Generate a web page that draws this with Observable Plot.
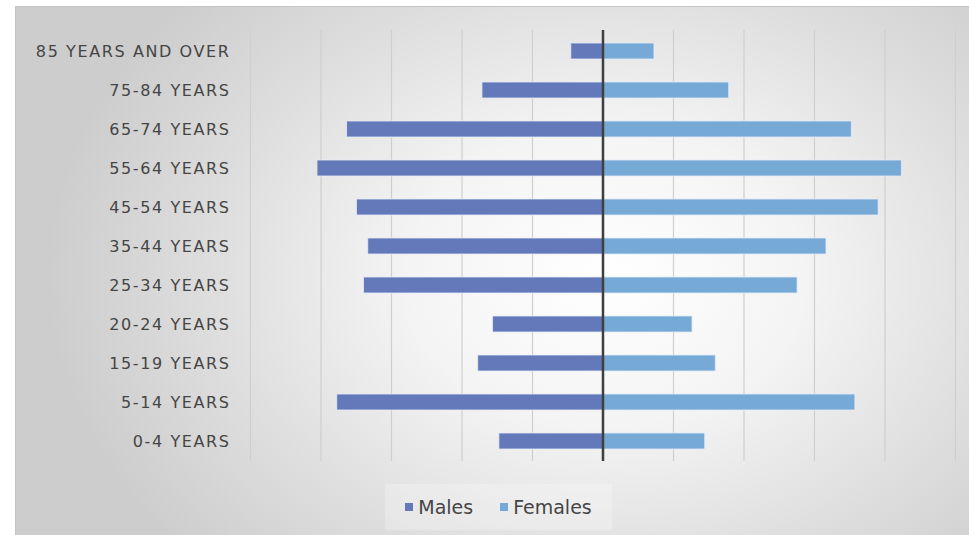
<!DOCTYPE html>
<html>
<head>
<meta charset="utf-8">
<script src="https://cdn.jsdelivr.net/npm/d3@7"></script>
<script src="https://cdn.jsdelivr.net/npm/@observablehq/plot@0.6"></script>
<style>
  html, body { margin: 0; padding: 0; background: #fff; }
  body { width: 969px; height: 535px; position: relative; overflow: hidden; font-family: "DejaVu Sans", sans-serif; }
  #panel {
    position: absolute; left: 15px; top: 6px; width: 970px; height: 540px;
    border: 1px solid #c4c4c4; box-sizing: border-box;
    background: radial-gradient(ellipse 560px 420px at 590px 270px, #ffffff 0%, #f4f4f4 35%, #dedede 70%, #cdcdcd 100%);
  }
  #chart { position: absolute; left: 0; top: 0; }
  #legend {
    position: absolute; left: 385px; top: 484px; width: 227px; height: 46px;
    background: rgba(255,255,255,0.25);
    display: flex; align-items: center; justify-content: center; gap: 27px;
    font-size: 19px; color: #454545;
  }
  #legend span.item { display: flex; align-items: center; gap: 5px; }
  #legend span.sw { width: 8px; height: 8px; display: inline-block; }
</style>
</head>
<body>
<div id="panel"></div>
<div id="chart"></div>
<div id="legend">
  <span class="item"><span class="sw" style="background:#6479b9"></span>Males</span>
  <span class="item"><span class="sw" style="background:#77a9d7"></span>Females</span>
</div>
<script>
const ageGroups = ["85 YEARS AND OVER","75-84 YEARS","65-74 YEARS","55-64 YEARS","45-54 YEARS","35-44 YEARS","25-34 YEARS","20-24 YEARS","15-19 YEARS","5-14 YEARS","0-4 YEARS"];
const males   = [0.45, 1.71, 3.63, 4.05, 3.49, 3.33, 3.39, 1.56, 1.77, 3.77, 1.47];
const females = [0.73, 1.79, 3.53, 4.24, 3.91, 3.17, 2.76, 1.27, 1.60, 3.58, 1.45];
const gridTicks = [-5,-4,-3,-2,-1,1,2,3,4,5];

const maleColor = "#6479b9";
const femaleColor = "#77a9d7";

const rows = ageGroups.flatMap((g, i) => [
  {group: g, sex: "Males", x1: 0, x2: -males[i]},
  {group: g, sex: "Females", x1: 0, x2: females[i]}
]);

const chart = Plot.plot({
  width: 969,
  height: 470,
  marginLeft: 250,
  marginRight: 14,
  marginTop: 30,
  marginBottom: 9,
  style: {background: "transparent", fontFamily: "'DejaVu Sans', sans-serif", fontSize: "16px", color: "#454545"},
  x: {domain: [-5, 5], axis: null},
  y: {domain: ageGroups, paddingInner: 0.59, paddingOuter: 0.31, label: null},
  color: {domain: ["Males","Females"], range: [maleColor, femaleColor]},
  marks: [
    Plot.ruleX(gridTicks, {stroke: "#cfcfcf", strokeWidth: 1.2}),
    Plot.barX(rows, {y: "group", x1: "x1", x2: "x2", fill: "sex", stroke: "#e4ecf7", strokeWidth: 1, strokeOpacity: 0.8, inset: 0}),
    Plot.ruleX([0], {stroke: "#3f3f3f", strokeWidth: 2.5}),
    Plot.axisY({tickSize: 0, tickPadding: 20, fontSize: 16, fill: "#454545", label: null, style: "letter-spacing: 1.6px"})
  ]
});
chart.querySelectorAll("text").forEach(t => t.style.letterSpacing = "1.6px");
document.getElementById("chart").appendChild(chart);
</script>
</body>
</html>
